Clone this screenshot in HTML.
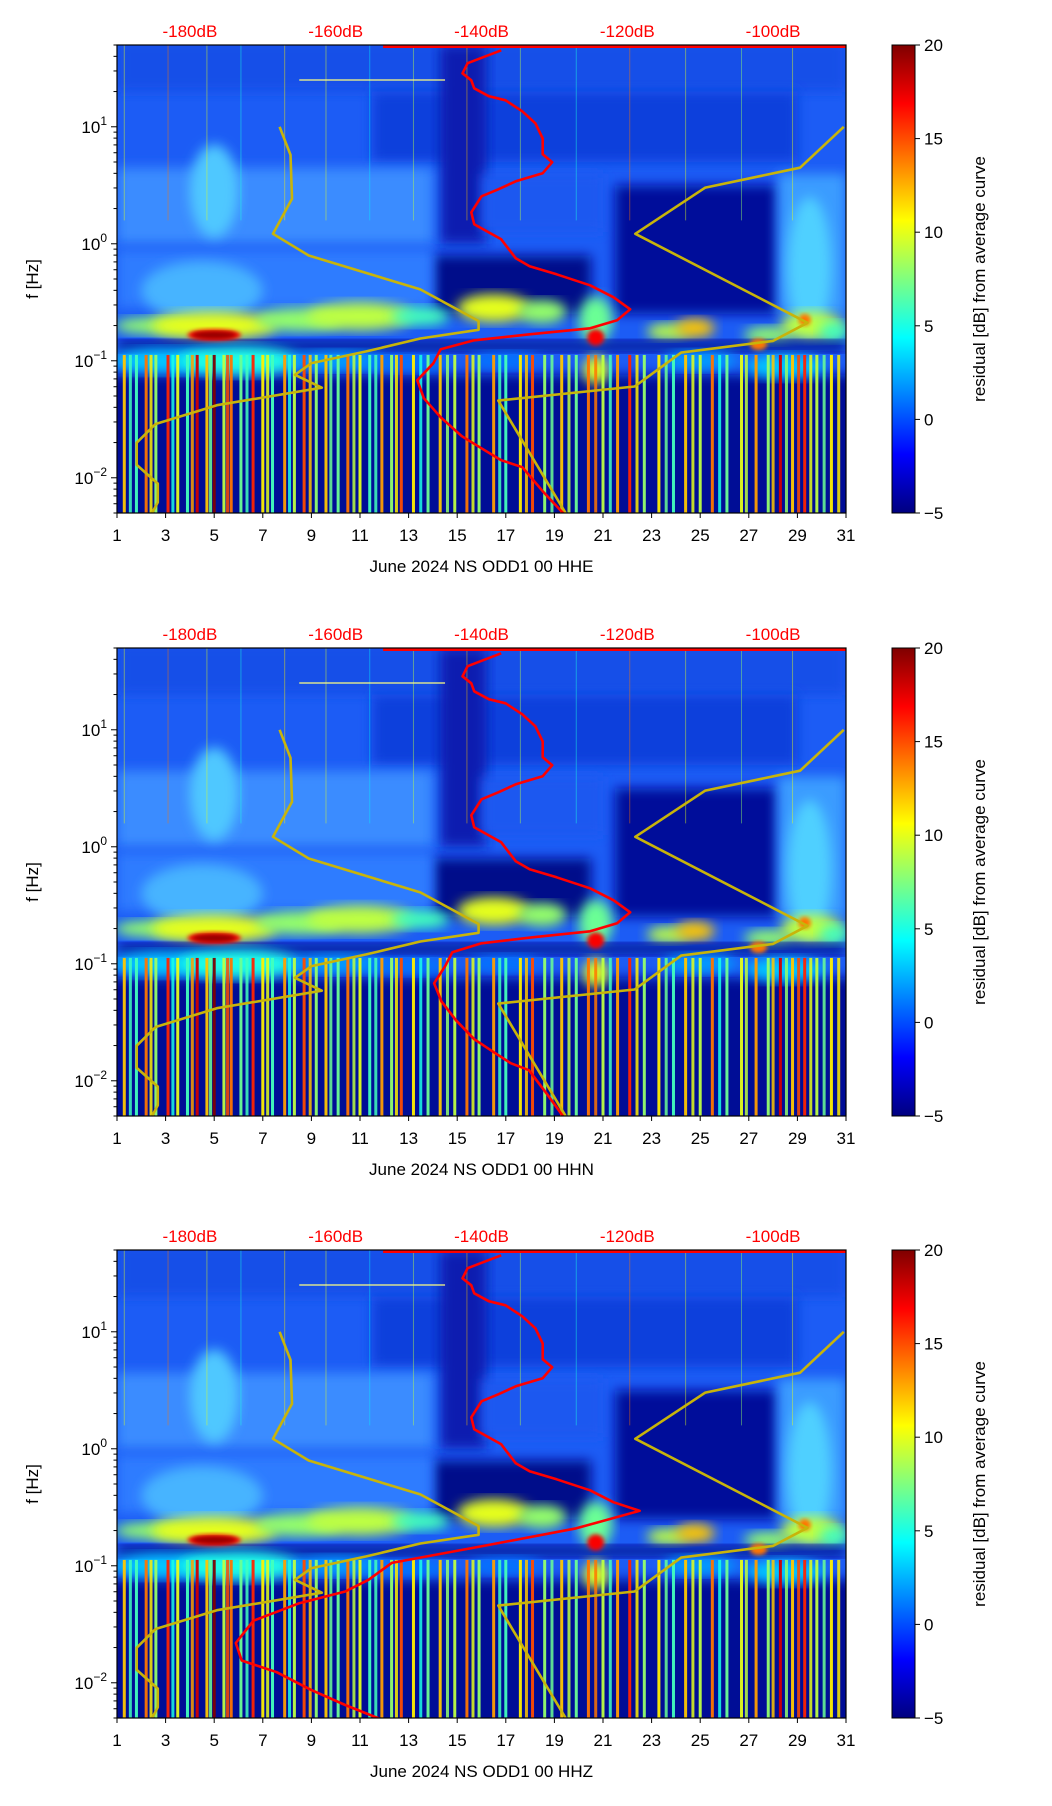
<!DOCTYPE html>
<html><head><meta charset="utf-8">
<style>
html,body{margin:0;padding:0;background:#fff;}
svg{display:block;font-family:"Liberation Sans","DejaVu Sans",sans-serif;}
</style></head>
<body>
<svg id="fig" width="1052" height="1806" viewBox="0 0 1052 1806" xmlns="http://www.w3.org/2000/svg">
<defs>
<filter id="blur" x="-20%" y="-20%" width="140%" height="140%"><feGaussianBlur stdDeviation="6"/></filter>
<filter id="blur2" x="-20%" y="-20%" width="140%" height="140%"><feGaussianBlur stdDeviation="2"/></filter>
<linearGradient id="jet" x1="0" y1="1" x2="0" y2="0">
<stop offset="0" stop-color="#00007f"/><stop offset="0.125" stop-color="#0000ff"/><stop offset="0.375" stop-color="#00ffff"/><stop offset="0.625" stop-color="#ffff00"/><stop offset="0.875" stop-color="#ff0000"/><stop offset="1" stop-color="#7f0000"/>
</linearGradient>
</defs>
</svg>
<script>
// ---- data ----
const channels = ["HHE","HHN","HHZ"];
const xTickDays = [1,3,5,7,9,11,13,15,17,19,21,23,25,27,29,31];
const dbTicks = [-180,-160,-140,-120,-100];
const yDecades = [1,0,-1,-2];
const cbTicks = [-5,0,5,10,15,20];
// low noise model (dB, log10 f)
const nlnmDb   = [-167.7,-166.2,-166.0,-168.6,-163.7,-148.4,-140.4,-140.4,-148.4,-155.8,-163.3,-165.6,-161.9,-176.3,-184.7,-187.3,-187.3,-184.4,-184.4,-185.6];
const nlnmLogF = [1.0,0.76,0.385,0.085,-0.10,-0.39,-0.66,-0.735,-0.81,-0.92,-1.02,-1.12,-1.23,-1.38,-1.54,-1.70,-1.89,-2.05,-2.21,-2.35];
// high noise model
const nhnmDb   = [-90.3,-96.3,-109.3,-118.9,-95.3,-100.0,-112.6,-119.0,-137.7,-128.0];
const nhnmLogF = [1.0,0.65,0.48,0.085,-0.675,-0.83,-0.93,-1.22,-1.34,-2.35];
// average PSD curves per channel
const avgLogF = [1.654,1.543,1.457,1.397,1.329,1.261,1.226,1.132,1.03,0.90,0.765,0.697,0.603,0.534,0.466,0.406,0.269,0.167,0.038,-0.124,-0.192,-0.261,-0.355,-0.457,-0.56,-0.654,-0.722,-0.774,-0.825,-0.902,-1.021,-1.167,-1.321,-1.483,-1.645,-1.748,-1.85,-1.91,-2.115,-2.329];
const avgDbHHE = [-137.3,-141.9,-142.6,-141.4,-141.0,-139.0,-136.7,-134.4,-132.6,-131.6,-131.6,-130.3,-131.6,-135.3,-137.7,-140.0,-141.4,-141.0,-137.3,-135.3,-133.4,-129.7,-125.1,-121.9,-119.6,-121.4,-125.1,-133.4,-141.0,-145.6,-146.6,-148.8,-147.9,-145.6,-142.7,-140.0,-137.3,-134.4,-131.6,-128.4];
const avgDbHHN = [-137.3,-141.9,-142.6,-141.4,-141.0,-139.0,-136.7,-134.4,-132.6,-131.6,-131.6,-130.3,-131.6,-135.3,-137.7,-140.0,-141.4,-141.0,-137.3,-135.3,-133.4,-129.7,-125.1,-121.9,-119.6,-121.4,-125.1,-133.0,-140.0,-144.0,-145.0,-146.5,-145.5,-143.5,-141.0,-138.5,-136.0,-133.5,-131.0,-128.5];
const avgLogFHHZ = [1.654,1.543,1.457,1.397,1.329,1.261,1.226,1.132,1.03,0.90,0.765,0.697,0.603,0.534,0.466,0.406,0.269,0.167,0.038,-0.124,-0.192,-0.261,-0.355,-0.457,-0.53,-0.68,-0.83,-0.975,-1.12,-1.22,-1.32,-1.47,-1.66,-1.81,-1.91,-2.06,-2.19,-2.31];
const avgDbHHZ = [-137.3,-141.9,-142.6,-141.4,-141.0,-139.0,-136.7,-134.4,-132.6,-131.6,-131.6,-130.3,-131.6,-135.3,-137.7,-140.0,-141.4,-141.0,-137.3,-135.3,-133.4,-129.7,-125.1,-121.9,-118.3,-127.0,-139.7,-152.3,-155.5,-158.7,-165.0,-171.3,-173.7,-172.9,-168.1,-163.4,-158.7,-153.9];
// low-frequency transient stripes (day, residual level dB)
const stripeDays = [1.3,1.8,2.2,2.6,3.1,3.5,3.9,4.3,4.7,5.0,5.4,5.7,6.1,6.6,7.0,7.4,7.9,8.3,8.7,9.2,9.6,10.1,10.5,11.0,11.4,11.9,12.3,12.7,13.2,13.8,14.3,14.9,15.4,15.9,16.5,17.0,17.6,18.1,18.6,19.3,19.9,20.4,21.0,21.6,22.1,22.7,23.3,23.9,24.4,25.0,25.5,26.1,26.7,27.3,27.8,28.3,28.8,29.3,29.8,30.4];
const stripeLevels = [12,6,14,8,16,10,6,18,12,20,9,14,7,16,11,6,13,9,15,8,12,7,14,10,6,13,8,15,11,7,12,9,14,8,13,6,11,15,8,12,7,14,9,13,16,8,11,6,12,9,14,7,10,13,8,18,12,16,9,11];
const stripeDays2 = [1.55,2.4,3.3,4.1,4.85,5.55,6.35,7.2,8.1,8.95,9.8,10.75,11.65,12.5,13.5,14.6,15.65,16.75,17.85,18.9,19.6,20.7,21.3,22.4,23.6,24.7,25.8,26.9,28.0,28.55,29.05,29.55,30.1,30.7];
const stripeLevels2 = [4,9,3,11,5,13,4,8,3,10,5,7,4,9,3,6,8,4,10,5,7,12,4,9,5,8,3,7,10,6,13,8,5,9];
// ---- layout ----
const L=117,R=846,H=468,tops=[45,648,1250],CBX=892,CBW=23;
const svg=document.getElementById('fig');
const NS='http://www.w3.org/2000/svg';
function mk(tag,attrs,parent){const e=document.createElementNS(NS,tag);for(const k in attrs)e.setAttribute(k,attrs[k]);(parent||svg).appendChild(e);return e;}
function jet(v){
  const t=Math.max(0,Math.min(1,(v+5)/25));
  const st=[[0,0,0,127],[0.125,0,0,255],[0.375,0,255,255],[0.625,255,255,0],[0.875,255,0,0],[1,127,0,0]];
  for(let i=1;i<st.length;i++){if(t<=st[i][0]){const a=st[i-1],b=st[i],f=(t-a[0])/(b[0]-a[0]);return `rgb(${Math.round(a[1]+f*(b[1]-a[1]))},${Math.round(a[2]+f*(b[2]-a[2]))},${Math.round(a[3]+f*(b[3]-a[3]))})`;}}
  return 'rgb(127,0,0)';
}
channels.forEach((ch,pi)=>{
  const top=tops[pi],bot=top+H;
  const X=d=>L+(d-1)*(R-L)/30;
  const Y=lf=>top+(Math.log10(50)-lf)*H/4;
  const XD=db=>L+(db+190)*(R-L)/100;
  const g=mk('g',{},svg);
  
  
  const cp=mk('clipPath',{id:'clip'+pi},g);
  mk('rect',{x:L,y:top,width:R-L,height:H},cp);
  const hm=mk('g',{'clip-path':`url(#clip${pi})`},g);
  
  
  const rect=(d0,d1,f0,f1,c,flt)=>mk('rect',{x:X(d0),y:Y(f1),width:X(d1)-X(d0),height:Y(f0)-Y(f1),fill:c,filter:flt?'url(#blur)':''},hm);
  const ell=(d,lf,rd,rf,c,flt)=>mk('ellipse',{cx:X(d),cy:Y(lf),rx:rd*(R-L)/30,ry:rf*H/4,fill:c,filter:'url(#'+(flt||'blur')+')'},hm);
  rect(1,31,-2.4,1.75,'#1c5cf5');
  rect(1,31,1.3,1.75,'#1450e8',true);
  rect(11.5,29,0.7,1.3,'#0e40dc',true);
  rect(14.3,16.2,0.0,1.7,'#0a1cb0',true);
  rect(1,14,0.0,0.65,'#3a8cff',true);
  rect(16,21,0.1,0.6,'#1a58f0',true);
  rect(21.5,28.2,-0.6,0.5,'#000c9a',true);
  rect(14,20.5,-0.6,-0.1,'#00088a',true);
  rect(1,14,-0.55,-0.05,'#2f7cff',true);
  rect(28.2,31,-0.6,0.6,'#3a9cff',true);
  ell(5,0.45,1.0,0.4,'#50c8ff');
  ell(29.5,-0.2,0.9,0.6,'#50d0ff');
  ell(4.5,-0.4,2.5,0.25,'#46b4ff');
  [[2.5,-0.7,1.6,0.07,8],[5,-0.7,2.6,0.12,10],[8.5,-0.65,1.8,0.1,8],[11,-0.62,2.2,0.12,9],[13.5,-0.62,1.2,0.08,6],[16.5,-0.55,1.5,0.12,10],[18.5,-0.58,1.0,0.1,8],[20.7,-0.65,0.7,0.2,7],[23.7,-0.75,0.9,0.07,9],[24.8,-0.72,0.8,0.08,12],[27.8,-0.78,1.0,0.07,8],[29.6,-0.7,1.3,0.12,9],[30.5,-0.75,0.6,0.08,6]].forEach(b=>ell(b[0],b[1],b[2],b[3],jet(b[4])));
  rect(1,31,-0.92,-0.83,'#000a90',true);
  ell(5,-0.78,1.1,0.05,jet(17),'blur2');
  ell(5,-0.78,0.9,0.03,jet(19.5),'blur2');
  ell(20.7,-0.8,0.35,0.07,jet(17),'blur2');
  ell(29.3,-0.65,0.25,0.05,jet(14),'blur2');
  ell(27.4,-0.86,0.35,0.05,jet(14),'blur2');
  rect(-1,33,-2.6,-1.12,'#000c96',true);
  [[3,-1.0,2.2,0.1,3],[6,-1.0,2.5,0.12,5],[10,-1.0,2.0,0.08,2],[13,-1.02,1.8,0.07,1],[17,-1.0,1.5,0.07,1],[20.7,-1.08,0.5,0.12,10],[25,-1.0,1.5,0.08,2],[28.5,-1.05,1.6,0.1,3]].forEach(b=>ell(b[0],b[1],b[2],b[3],jet(b[4])));
  const stripe=(d,lv,w,op)=>{const s=mk('rect',{x:X(d)-w/2,y:Y(-0.95),width:w,height:Y(-2.4)-Y(-0.95),fill:jet(lv),opacity:op},hm);
    
    return s;};
  stripeDays2.forEach((d,i)=>stripe(d,stripeLevels2[i]+2,3,0.85));
  stripeDays.forEach((d,i)=>{
    stripe(d,stripeLevels[i],3,0.95);
    if(i%4===0){const s2=mk('rect',{x:X(d)-0.5,y:top,width:1,height:Y(0.2)-top,fill:jet(stripeLevels[i]-2),opacity:0.45},hm);
    
    }
  });
  mk('line',{x1:X(8.5),x2:X(14.5),y1:Y(1.4),y2:Y(1.4),stroke:'#ffff80','stroke-width':1.2},hm);
  const tl=mk('rect',{x:XD(-153.5),y:top,width:R-XD(-153.5),height:3,fill:'#ff0000'},hm);
  
  
  const poly=(dbs,lfs,col,name)=>{const p=mk('polyline',{points:dbs.map((v,i)=>XD(v).toFixed(1)+','+Y(lfs[i]).toFixed(1)).join(' '),fill:'none',stroke:col,'stroke-width':2.6,'stroke-linejoin':'round'},hm);
    };
  poly(nlnmDb,nlnmLogF,'#c8b40a','low-noise-model-curve');
  poly(nhnmDb,nhnmLogF,'#c8b40a','high-noise-model-curve');
  if(pi===0)poly(avgDbHHE,avgLogF,'#ff0000','average-psd-curve');
  if(pi===1)poly(avgDbHHN,avgLogF,'#ff0000','average-psd-curve');
  if(pi===2)poly(avgDbHHZ,avgLogFHHZ,'#ff0000','average-psd-curve');
  mk('rect',{x:L,y:top,width:R-L,height:H,fill:'none',stroke:'#000','stroke-width':1.2},g);
  xTickDays.forEach(d=>{mk('line',{x1:X(d),x2:X(d),y1:bot,y2:bot+5,stroke:'#000','stroke-width':1},g);
    const t=mk('text',{x:X(d),y:bot+28,'text-anchor':'middle','font-size':17,fill:'#000'},g);t.textContent=d;
    });
  const xl=mk('text',{x:(L+R)/2,y:bot+59,'text-anchor':'middle','font-size':17,fill:'#000'},g);
  xl.textContent='June 2024 NS ODD1 00 '+ch;
  
  dbTicks.forEach(v=>{const t=mk('text',{x:XD(v),y:top-8,'text-anchor':'middle','font-size':17,fill:'#ff0000'},g);t.textContent=v+'dB';
    });
  for(let dcd=-3;dcd<=1;dcd++){for(let m=1;m<=9;m++){const lf=dcd+Math.log10(m);const y=Y(lf);if(y<top-0.5||y>bot+0.5)continue;
    mk('line',{x1:L,x2:L-(m===1?6:3.5),y1:y,y2:y,stroke:'#000','stroke-width':1},g);}}
  yDecades.forEach(d=>{const t=mk('text',{x:L-10,y:Y(d)+6,'text-anchor':'end','font-size':17,fill:'#000'},g);
    
    const a=mk('tspan',{},t);a.textContent='10';const b=mk('tspan',{dy:-8,'font-size':12},t);b.textContent=(d<0?'\u2212'+(-d):d);});
  const yl=mk('text',{x:38,y:top+H/2,'text-anchor':'middle','font-size':17,transform:`rotate(-90 38 ${top+H/2})`},g);
  yl.textContent='f [Hz]';
  const cb=mk('rect',{x:CBX,y:top,width:CBW,height:H,fill:'url(#jet)',stroke:'#000','stroke-width':1},g);
  
  cbTicks.forEach(v=>{const y=bot-(v+5)/25*H;mk('line',{x1:CBX+CBW,x2:CBX+CBW+5,y1:y,y2:y,stroke:'#000','stroke-width':1},g);
    const t=mk('text',{x:CBX+CBW+9,y:y+6,'font-size':17},g);t.textContent=(v<0?'\u2212'+(-v):v);
    });
  const cl=mk('text',{x:985,y:top+H/2,'text-anchor':'middle','font-size':17,transform:`rotate(-90 985 ${top+H/2})`},g);
  cl.textContent='residual [dB] from average curve';
});
</script>
</body></html>
